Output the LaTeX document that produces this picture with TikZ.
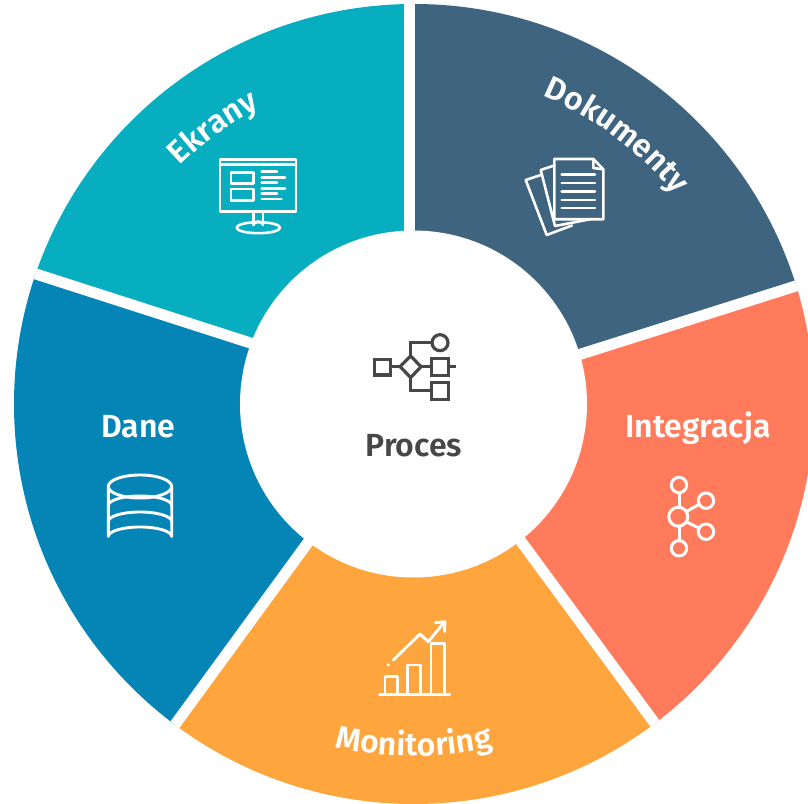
\documentclass[tikz,border=0pt]{standalone}
\usepackage{fontspec}
\setmainfont{Fira Sans SemiBold}
\usetikzlibrary{decorations.text}
\definecolor{cEk}{HTML}{06AEC0}
\definecolor{cDo}{HTML}{3E647F}
\definecolor{cIn}{HTML}{FF7B5C}
\definecolor{cMo}{HTML}{FFA53E}
\definecolor{cDa}{HTML}{0485B5}
\definecolor{cGr}{HTML}{474747}
\tikzset{
  gapline/.style={white,line width=11pt},
  icon/.style={draw=white,line width=2.9pt,line join=round,line cap=round},
  procicon/.style={draw=cGr,line width=3.2pt,line join=miter},
  lab/.style={text=white,font=\fontsize{32}{35}\selectfont,inner sep=0pt},
  curved/.style={decorate,decoration={text along path,text align=center,text color=white,
     text={|\fontsize{32}{35}\selectfont|#1}}}
}
\begin{document}
\begin{tikzpicture}[x=1pt,y=1pt]
\useasboundingbox (0,0) rectangle (808,803);
\coordinate (C) at (414,399);
\begin{scope}[x=1pt,y=-1pt,shift={(0pt,803pt)}]
\begin{scope}
\clip (414,404) circle[radius=400];
\fill[cEk] (409.5,300) -- (409.5,-300) -- (-440,121) -- (250,343) -- (320,404) -- cycle;
\fill[cDa] (250,343) -- (-440,121) -- (-118,1126) -- (309,541) -- (400,404) -- cycle;
\fill[cMo] (309,541) -- (-118,1126) -- (948,1122) -- (521,541) -- (420,404) -- cycle;
\fill[cIn] (521,541) -- (948,1122) -- (1276,134) -- (581,354) -- (500,404) -- cycle;
\fill[cDo] (581,354) -- (1276,134) -- (409.5,-300) -- (409.5,300) -- (420,404) -- cycle;
\draw[gapline] (409.5,-10) -- (409.5,404);
\draw[gapline] (-440,121) -- (350,375);
\draw[gapline] (1276,134) -- (480,386);
\draw[gapline] (948,1122) -- (420,404);
\draw[gapline] (-118,1126) -- (409,404);
\end{scope}
\fill[white] (413.5,404) circle[radius=173.5];
\end{scope}
% curved labels
\path[curved=Ekrany] (C) ++(160:334pt) arc[start angle=160,end angle=92,radius=334pt];
\path[curved=Dokumenty] (C) ++(90:334pt) arc[start angle=90,end angle=16,radius=334pt];
\path[curved=Monitoring] (C) ++(236:352pt) arc[start angle=236,end angle=304,radius=352pt];
% straight labels
\node[lab] (dane) at (138.5,376) {Dane};
\node[lab] (integracja) at (698,375) {Integracja};
\node[lab,text=cGr] (proces) at (414,357) {Proces};
\begin{scope}[x=1pt,y=-1pt,shift={(0pt,803pt)}]
% process icon
\begin{scope}[procicon]
\draw (374.5,359.5) rectangle (390.5,375);
\draw (410.7,356) -- (421,366.7) -- (410.7,377.5) -- (400,366.7) -- cycle;
\draw (390.5,366.7) -- (400,366.7) (421,366.7) -- (431.5,366.7);
\draw (440,342.7) circle[radius=8];
\draw (410.7,356) -- (410.7,342.7) -- (432,342.7);
\draw (431.5,358.2) rectangle (448.5,375.2);
\draw (448.5,366.7) -- (456,366.7);
\draw (410.7,377.5) -- (410.7,390.5) -- (431.5,390.5);
\draw (431.5,382.5) rectangle (448.5,399.5);
\end{scope}
% monitor icon
\begin{scope}[icon,line width=2.6pt]
\draw (220,159.5) rectangle (296,211.5);
\draw (220,164.5) -- (296,164.5);
\draw (231,172.3) rectangle (253.3,183.3);
\draw (231,189) rectangle (253.3,200.7);
\draw (261.7,171.7) -- (277,171.7) (261.7,177.3) -- (285,177.3) (261.7,182.7) -- (277,182.7)
      (261.7,188.3) -- (285,188.3) (261.7,193.7) -- (277,193.7) (261.7,199) -- (281.5,199);
\draw (253.5,211.5) -- (253.5,225) (263,211.5) -- (263,225);
\draw (253.5,225) arc[start angle=180,end angle=360,x radius=4.75,y radius=3.5];
\draw (258.3,227.7) ellipse[x radius=21.7,y radius=5.5];
\end{scope}
% documents icon
\begin{scope}[icon,line width=2.6pt]
\draw (554.3,159) -- (593.3,159) -- (603.3,169.3) -- (603.3,219.3) -- (554.3,219.3) -- cycle;
\draw (593.3,159) -- (593.3,168) -- (603.3,169.3);
\foreach \yy in {174.7,183,191.7,200,208} \draw (561.7,\yy) -- (595,\yy);
\draw (554.3,165.5) -- (540.7,170) -- (555,226) -- (590,219.3);
\draw (540.7,175) -- (525.7,180) -- (546.7,235) -- (572,225.5);
\end{scope}
% integration icon
\begin{scope}[icon,line width=3pt]
\draw (678.3,516.7) circle[radius=9.5];
\draw (679,485) circle[radius=7.7];
\draw (706,500.7) circle[radius=7.7];
\draw (706,531.7) circle[radius=7.7];
\draw (679,548.3) circle[radius=7.7];
\draw (679,492.7) -- (679,507.2) (679,526.2) -- (679,540.6);
\draw (686.5,511.5) -- (699,504.5) (686.5,522) -- (699,528);
\end{scope}
% chart icon
\begin{scope}[icon]
\draw (379.5,694.3) -- (450,694.3);
\draw (385,694.3) -- (385,676.7) -- (397.7,676.7) -- (397.7,694.3);
\draw (407.7,694.3) -- (407.7,665) -- (420.7,665) -- (420.7,694.3);
\draw (431,694.3) -- (431,643.3) -- (444.3,643.3) -- (444.3,694.3);
\draw (393.3,660) -- (420,634) -- (428.3,641.7) -- (444,622.5);
\draw (435.5,622.7) -- (445,621.7) -- (444.5,631.5);
\fill[white] (388.3,665) circle[radius=1.6];
\end{scope}
% database icon
\begin{scope}[icon]
\draw (140,486.5) ellipse[x radius=31.7,y radius=11.5];
\draw (108.3,486.5) -- (108.3,536.5) arc[start angle=180,end angle=360,x radius=31.7,y radius=9.5] -- (171.7,486.5);
\draw (108.3,505.5) arc[start angle=180,end angle=360,x radius=31.7,y radius=9.5];
\draw (108.3,521.5) arc[start angle=180,end angle=360,x radius=31.7,y radius=9.5];
\end{scope}
\end{scope}
\end{tikzpicture}
\end{document}
